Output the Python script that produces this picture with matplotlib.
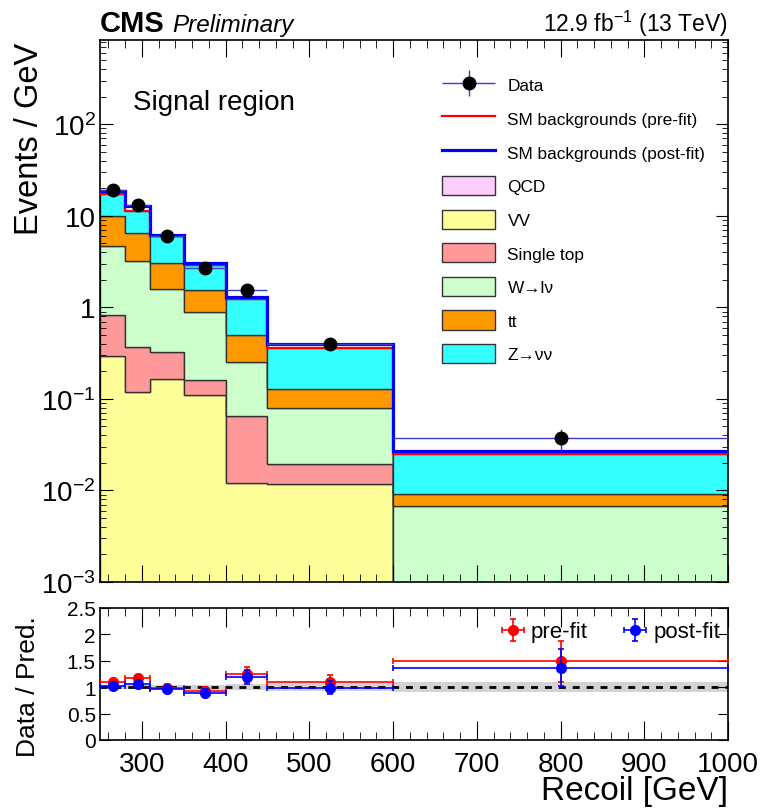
import numpy as np
import matplotlib
matplotlib.use("Agg")
import matplotlib.pyplot as plt
from matplotlib.patches import Patch
from matplotlib.lines import Line2D
from matplotlib.legend_handler import HandlerErrorbar
from matplotlib.ticker import MultipleLocator, LogLocator, FuncFormatter, NullFormatter

plt.rcParams['font.family'] = ['Liberation Sans', 'DejaVu Sans']
plt.rcParams['mathtext.fontset'] = 'custom'
plt.rcParams['mathtext.rm'] = 'Liberation Sans'
plt.rcParams['mathtext.it'] = 'Liberation Sans:italic'
plt.rcParams['mathtext.bf'] = 'Liberation Sans:bold'

# ---- Data ----
edges = [250, 280, 310, 350, 400, 450, 600, 1000]

# backgrounds, Events / GeV, stacked bottom -> top
qcd = [0.0002, 0.0002, 0.0001, 0.0001, 0.0001, 0.00005, 0.00001]
vv = [0.297, 0.118, 0.166, 0.110, 0.012, 0.0118, 0.0004]
single_top = [0.533, 0.249, 0.158, 0.051, 0.0527, 0.0075, 0.0003]
wlnu = [3.90, 2.80, 1.246, 0.739, 0.191, 0.0597, 0.0060]
ttbar = [5.27, 3.33, 1.49, 0.63, 0.249, 0.049, 0.00237]
znunu = [7.3, 4.9, 2.97, 1.39, 0.722, 0.236, 0.0161]

postfit = [18.6, 12.8, 6.15, 3.08, 1.29, 0.40, 0.0272]

data = [19.0, 13.2, 5.95, 2.72, 1.53, 0.40, 0.0375]
data_err = [0.80, 0.66, 0.39, 0.23, 0.175, 0.052, 0.0097]

# ratio panel
ratio_pre = [1.10, 1.17, 0.987, 0.93, 1.247, 1.10, 1.487]
ratio_pre_err = [0.05, 0.06, 0.07, 0.08, 0.14, 0.14, 0.38]
ratio_post = [1.025, 1.057, 0.962, 0.886, 1.20, 0.994, 1.373]
ratio_post_err = [0.045, 0.055, 0.065, 0.075, 0.135, 0.13, 0.35]
band = [0.04, 0.04, 0.04, 0.05, 0.06, 0.08, 0.10]

labels = ['QCD', 'VV', 'Single top', 'W\u2192l\u03bd', 'tt', 'Z\u2192\u03bd\u03bd']
colors = ['#ffccff', '#ffff99', '#ff9999', '#ccffcc', '#ff9900', '#33ffff']
stack = [qcd, vv, single_top, wlnu, ttbar, znunu]

edges = np.array(edges)
centers = 0.5 * (edges[1:] + edges[:-1])
halfw = 0.5 * (edges[1:] - edges[:-1])

W, H = 762, 812
fig = plt.figure(figsize=(W / 100, H / 100), dpi=100)
ax = fig.add_axes([100 / W, 1 - 583 / H, 628 / W, 542 / H])
rax = fig.add_axes([100 / W, 1 - 741 / H, 628 / W, 132 / H])

# ---- Main panel ----
bottom = np.full(len(centers), 1e-6)
for vals, col in zip(stack, colors):
    top = bottom + np.array(vals)
    ax.stairs(top, edges, baseline=bottom, fill=True, facecolor=col,
              edgecolor='#333333', lw=1.0)
    bottom = top
prefit = bottom

ax.stairs(prefit, edges, baseline=None, color='red', lw=1.6, zorder=3)
ax.stairs(postfit, edges, baseline=None, color='blue', lw=2.3, zorder=4)

dcont = ax.errorbar(centers, data, yerr=data_err, xerr=halfw, fmt='o', color='black',
                    ms=9, ecolor='#3d3dc8', elinewidth=1.0, capsize=0, zorder=5)

ax.set_yscale('log')
ax.set_xlim(250, 1000)
ax.set_ylim(1e-3, 10 ** 2.92)
ax.xaxis.set_major_locator(MultipleLocator(100))
ax.xaxis.set_minor_locator(MultipleLocator(20))
ax.yaxis.set_major_locator(LogLocator(base=10, numticks=20))
ax.yaxis.set_minor_locator(LogLocator(base=10, subs=np.arange(2, 10), numticks=100))
ax.yaxis.set_minor_formatter(NullFormatter())


def log_fmt(v, pos):
    e = int(round(np.log10(v)))
    if e == 0:
        return '1'
    if e == 1:
        return '10'
    return '$10^{%d}$' % e


ax.yaxis.set_major_formatter(FuncFormatter(log_fmt))
ax.tick_params(which='both', direction='in', top=True, right=True, labelbottom=False)
ax.tick_params(axis='x', which='major', length=12)
ax.tick_params(axis='x', which='minor', length=6)
ax.tick_params(axis='y', which='major', length=9, labelsize=20, pad=3)
ax.tick_params(axis='y', which='minor', length=4.5)
for s in ax.spines.values():
    s.set_linewidth(1.2)

handles = [dcont,
           Line2D([], [], color='red', lw=1.6),
           Line2D([], [], color='blue', lw=2.3)]
handles += [Patch(facecolor=c, edgecolor='#333333', lw=1.0) for c in colors]
leg_labels = ['Data', 'SM backgrounds (pre-fit)', 'SM backgrounds (post-fit)'] + labels
ax.legend(handles, leg_labels, loc='upper left',
          bbox_to_anchor=(442 / W, 1 - 76 / H), bbox_transform=fig.transFigure,
          frameon=False, fontsize=12.4, borderpad=0, borderaxespad=0,
          handlelength=3.1, handleheight=1.35, handletextpad=0.7, labelspacing=0.83,
          handler_map={type(dcont): HandlerErrorbar(xerr_size=1.55, yerr_size=0.75)})

ax.text(133 / W, 1 - 110 / H, 'Signal region', transform=fig.transFigure, fontsize=20)
fig.text(100 / W, 1 - 32 / H, 'CMS', fontsize=21, fontweight='bold', va='baseline')
fig.text(172 / W, 1 - 32 / H, 'Preliminary', fontsize=17.5, style='italic', va='baseline')
fig.text(728 / W, 1 - 32 / H, '12.9 fb$^{-1}$ (13 TeV)', fontsize=16.5, ha='right', va='baseline')
fig.text(30 / W, 1 - 43 / H, 'Events / GeV', fontsize=23.5, rotation=90, ha='center', va='top')

# ---- Ratio panel ----
rax.stairs(1 + np.array(band), edges, baseline=1 - np.array(band), fill=True,
           color='#d3d3d3', lw=0, zorder=1)
rax.axhline(1, color='black', ls=(0, (2.5, 2.5)), lw=2, zorder=2)
pre = rax.errorbar(centers, ratio_pre, yerr=ratio_pre_err, xerr=halfw, fmt='o', color='red',
                   ms=7, elinewidth=1.2, capsize=2.5, capthick=1.2, zorder=3)
post = rax.errorbar(centers, ratio_post, yerr=ratio_post_err, xerr=halfw, fmt='o', color='blue',
                    ms=7, elinewidth=1.2, capsize=2.5, capthick=1.2, zorder=4)

rax.set_xlim(250, 1000)
rax.set_ylim(0, 2.5)
rax.xaxis.set_major_locator(MultipleLocator(100))
rax.xaxis.set_minor_locator(MultipleLocator(20))
rax.yaxis.set_major_locator(MultipleLocator(0.5))
rax.yaxis.set_major_formatter(FuncFormatter(lambda v, p: '%g' % v))
rax.tick_params(which='both', direction='in', top=True, right=True)
rax.tick_params(axis='x', which='major', length=14, labelsize=20, pad=8)
rax.tick_params(axis='x', which='minor', length=6)
rax.tick_params(axis='y', which='major', length=7, labelsize=15, pad=3)
for s in rax.spines.values():
    s.set_linewidth(1.2)

rax.legend([pre, post], ['pre-fit', 'post-fit'], loc='center right', ncol=2,
           bbox_to_anchor=(720 / W, 1 - 633 / H), bbox_transform=fig.transFigure,
           frameon=False, fontsize=16, handlelength=1.1, handletextpad=0.25,
           columnspacing=1.6, borderaxespad=0.0, borderpad=0.0)

fig.text(28 / W, 1 - 687 / H, 'Data / Pred.', fontsize=19, rotation=90, ha='center', va='center')
fig.text(728 / W, 1 - 792 / H, 'Recoil [GeV]', fontsize=24, ha='right', va='center')

fig.savefig('out.png', dpi=100)
